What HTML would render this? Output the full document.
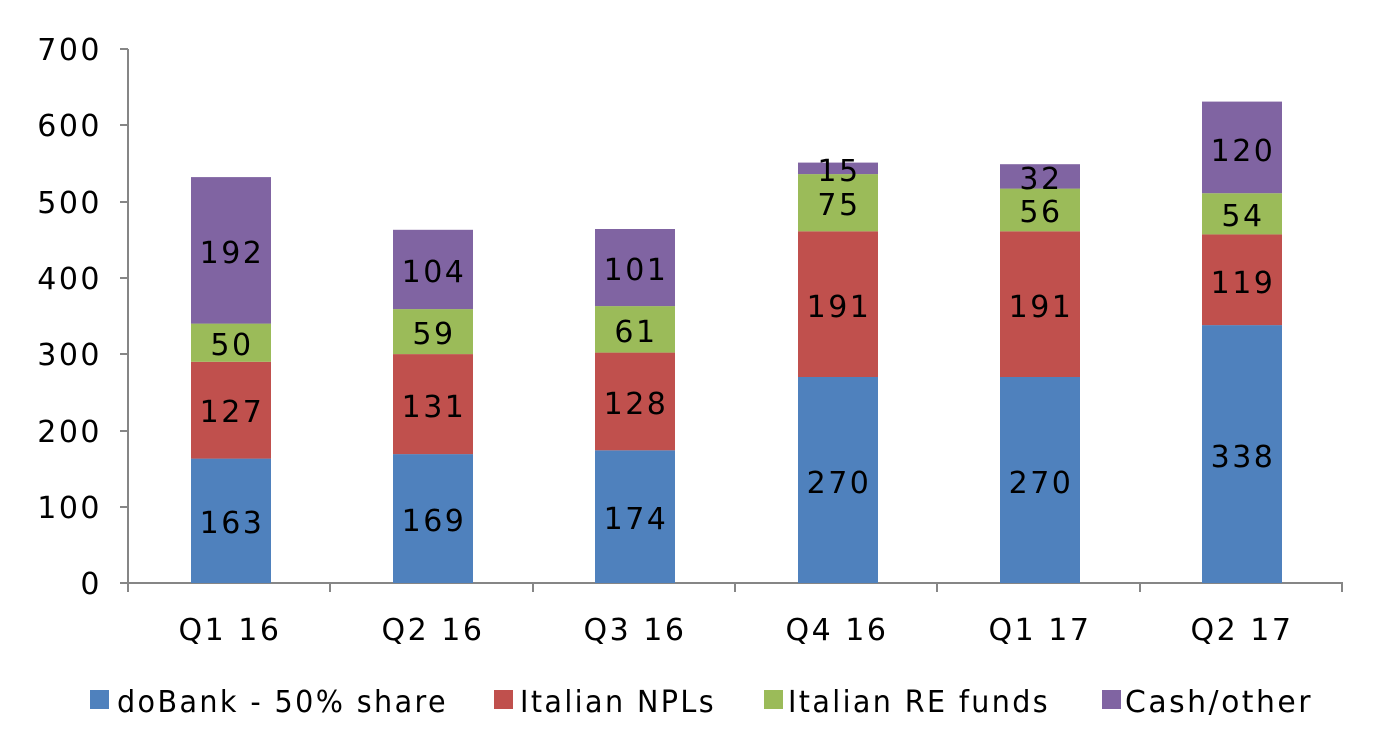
<!DOCTYPE html>
<html><head><meta charset="utf-8"><style>
html,body{margin:0;padding:0;background:#fff;}
svg text{font-family:"DejaVu Sans","Liberation Sans",sans-serif;font-size:30px;fill:#000;letter-spacing:2.5px;}
</style></head><body>
<svg width="1388" height="750" xmlns="http://www.w3.org/2000/svg">
<g stroke="#868686" stroke-width="2" fill="none">
<line x1="128" y1="49" x2="128" y2="584"/>
<line x1="127" y1="583" x2="1343" y2="583"/>
<line x1="120" y1="583" x2="128" y2="583"/>
<line x1="120" y1="507" x2="128" y2="507"/>
<line x1="120" y1="431" x2="128" y2="431"/>
<line x1="120" y1="354" x2="128" y2="354"/>
<line x1="120" y1="278" x2="128" y2="278"/>
<line x1="120" y1="202" x2="128" y2="202"/>
<line x1="120" y1="125" x2="128" y2="125"/>
<line x1="120" y1="49" x2="128" y2="49"/>
<line x1="128" y1="583" x2="128" y2="592"/>
<line x1="330" y1="583" x2="330" y2="592"/>
<line x1="533" y1="583" x2="533" y2="592"/>
<line x1="735" y1="583" x2="735" y2="592"/>
<line x1="937" y1="583" x2="937" y2="592"/>
<line x1="1140" y1="583" x2="1140" y2="592"/>
<line x1="1342" y1="583" x2="1342" y2="592"/>
</g>
<g text-anchor="end">
<text x="102" y="594">0</text>
<text x="102" y="518">100</text>
<text x="102" y="442">200</text>
<text x="102" y="365">300</text>
<text x="102" y="289">400</text>
<text x="102" y="213">500</text>
<text x="102" y="136">600</text>
<text x="102" y="60">700</text>
</g>
<g>
<rect x="191" y="458.6" width="80" height="124.4" fill="#4f81bd"/>
<rect x="191" y="361.8" width="80" height="96.8" fill="#c0504d"/>
<rect x="191" y="323.6" width="80" height="38.2" fill="#9bbb59"/>
<rect x="191" y="177.1" width="80" height="146.5" fill="#8064a2"/>

<rect x="393" y="454.1" width="80" height="128.9" fill="#4f81bd"/>
<rect x="393" y="354.1" width="80" height="100" fill="#c0504d"/>
<rect x="393" y="309.1" width="80" height="45" fill="#9bbb59"/>
<rect x="393" y="229.8" width="80" height="79.3" fill="#8064a2"/>

<rect x="595" y="450.3" width="80" height="132.7" fill="#4f81bd"/>
<rect x="595" y="352.6" width="80" height="97.7" fill="#c0504d"/>
<rect x="595" y="306.1" width="80" height="46.5" fill="#9bbb59"/>
<rect x="595" y="229.0" width="80" height="77.1" fill="#8064a2"/>

<rect x="798" y="377" width="80" height="206" fill="#4f81bd"/>
<rect x="798" y="231.3" width="80" height="145.7" fill="#c0504d"/>
<rect x="798" y="174.1" width="80" height="57.2" fill="#9bbb59"/>
<rect x="798" y="162.6" width="80" height="11.5" fill="#8064a2"/>

<rect x="1000" y="377" width="80" height="206" fill="#4f81bd"/>
<rect x="1000" y="231.3" width="80" height="145.7" fill="#c0504d"/>
<rect x="1000" y="188.6" width="80" height="42.7" fill="#9bbb59"/>
<rect x="1000" y="164.2" width="80" height="24.4" fill="#8064a2"/>

<rect x="1202" y="325.1" width="80" height="257.9" fill="#4f81bd"/>
<rect x="1202" y="234.4" width="80" height="90.7" fill="#c0504d"/>
<rect x="1202" y="193.2" width="80" height="41.2" fill="#9bbb59"/>
<rect x="1202" y="101.6" width="80" height="91.6" fill="#8064a2"/>
</g>
<g text-anchor="middle">
<text x="232" y="533">163</text><text x="232" y="422">127</text><text x="232" y="355">50</text><text x="232" y="263">192</text>
<text x="434" y="531">169</text><text x="434" y="417">131</text><text x="434" y="344">59</text><text x="434" y="282">104</text>
<text x="636" y="529">174</text><text x="636" y="414">128</text><text x="636" y="342">61</text><text x="636" y="280">101</text>
<text x="839" y="493">270</text><text x="839" y="317">191</text><text x="839" y="215">75</text><text x="839" y="181">15</text>
<text x="1041" y="493">270</text><text x="1041" y="317">191</text><text x="1041" y="222">56</text><text x="1041" y="189">32</text>
<text x="1243" y="467">338</text><text x="1243" y="293">119</text><text x="1243" y="226">54</text><text x="1243" y="161">120</text>
</g>
<g text-anchor="middle">
<text x="230" y="640">Q1 16</text>
<text x="433" y="640">Q2 16</text>
<text x="635" y="640">Q3 16</text>
<text x="837" y="640">Q4 16</text>
<text x="1040" y="640">Q1 17</text>
<text x="1242" y="640">Q2 17</text>
</g>
<rect x="90" y="690" width="19" height="19" fill="#4f81bd"/>
<text x="117" y="712" textLength="331" lengthAdjust="spacingAndGlyphs">doBank - 50% share</text>
<rect x="494" y="690" width="19" height="19" fill="#c0504d"/>
<text x="520" y="712" textLength="196" lengthAdjust="spacingAndGlyphs">Italian NPLs</text>
<rect x="764" y="690" width="19" height="19" fill="#9bbb59"/>
<text x="788" y="712" textLength="262" lengthAdjust="spacingAndGlyphs">Italian RE funds</text>
<rect x="1102" y="690" width="19" height="19" fill="#8064a2"/>
<text x="1125" y="712" textLength="188" lengthAdjust="spacingAndGlyphs">Cash/other</text>
</svg>
</body></html>
